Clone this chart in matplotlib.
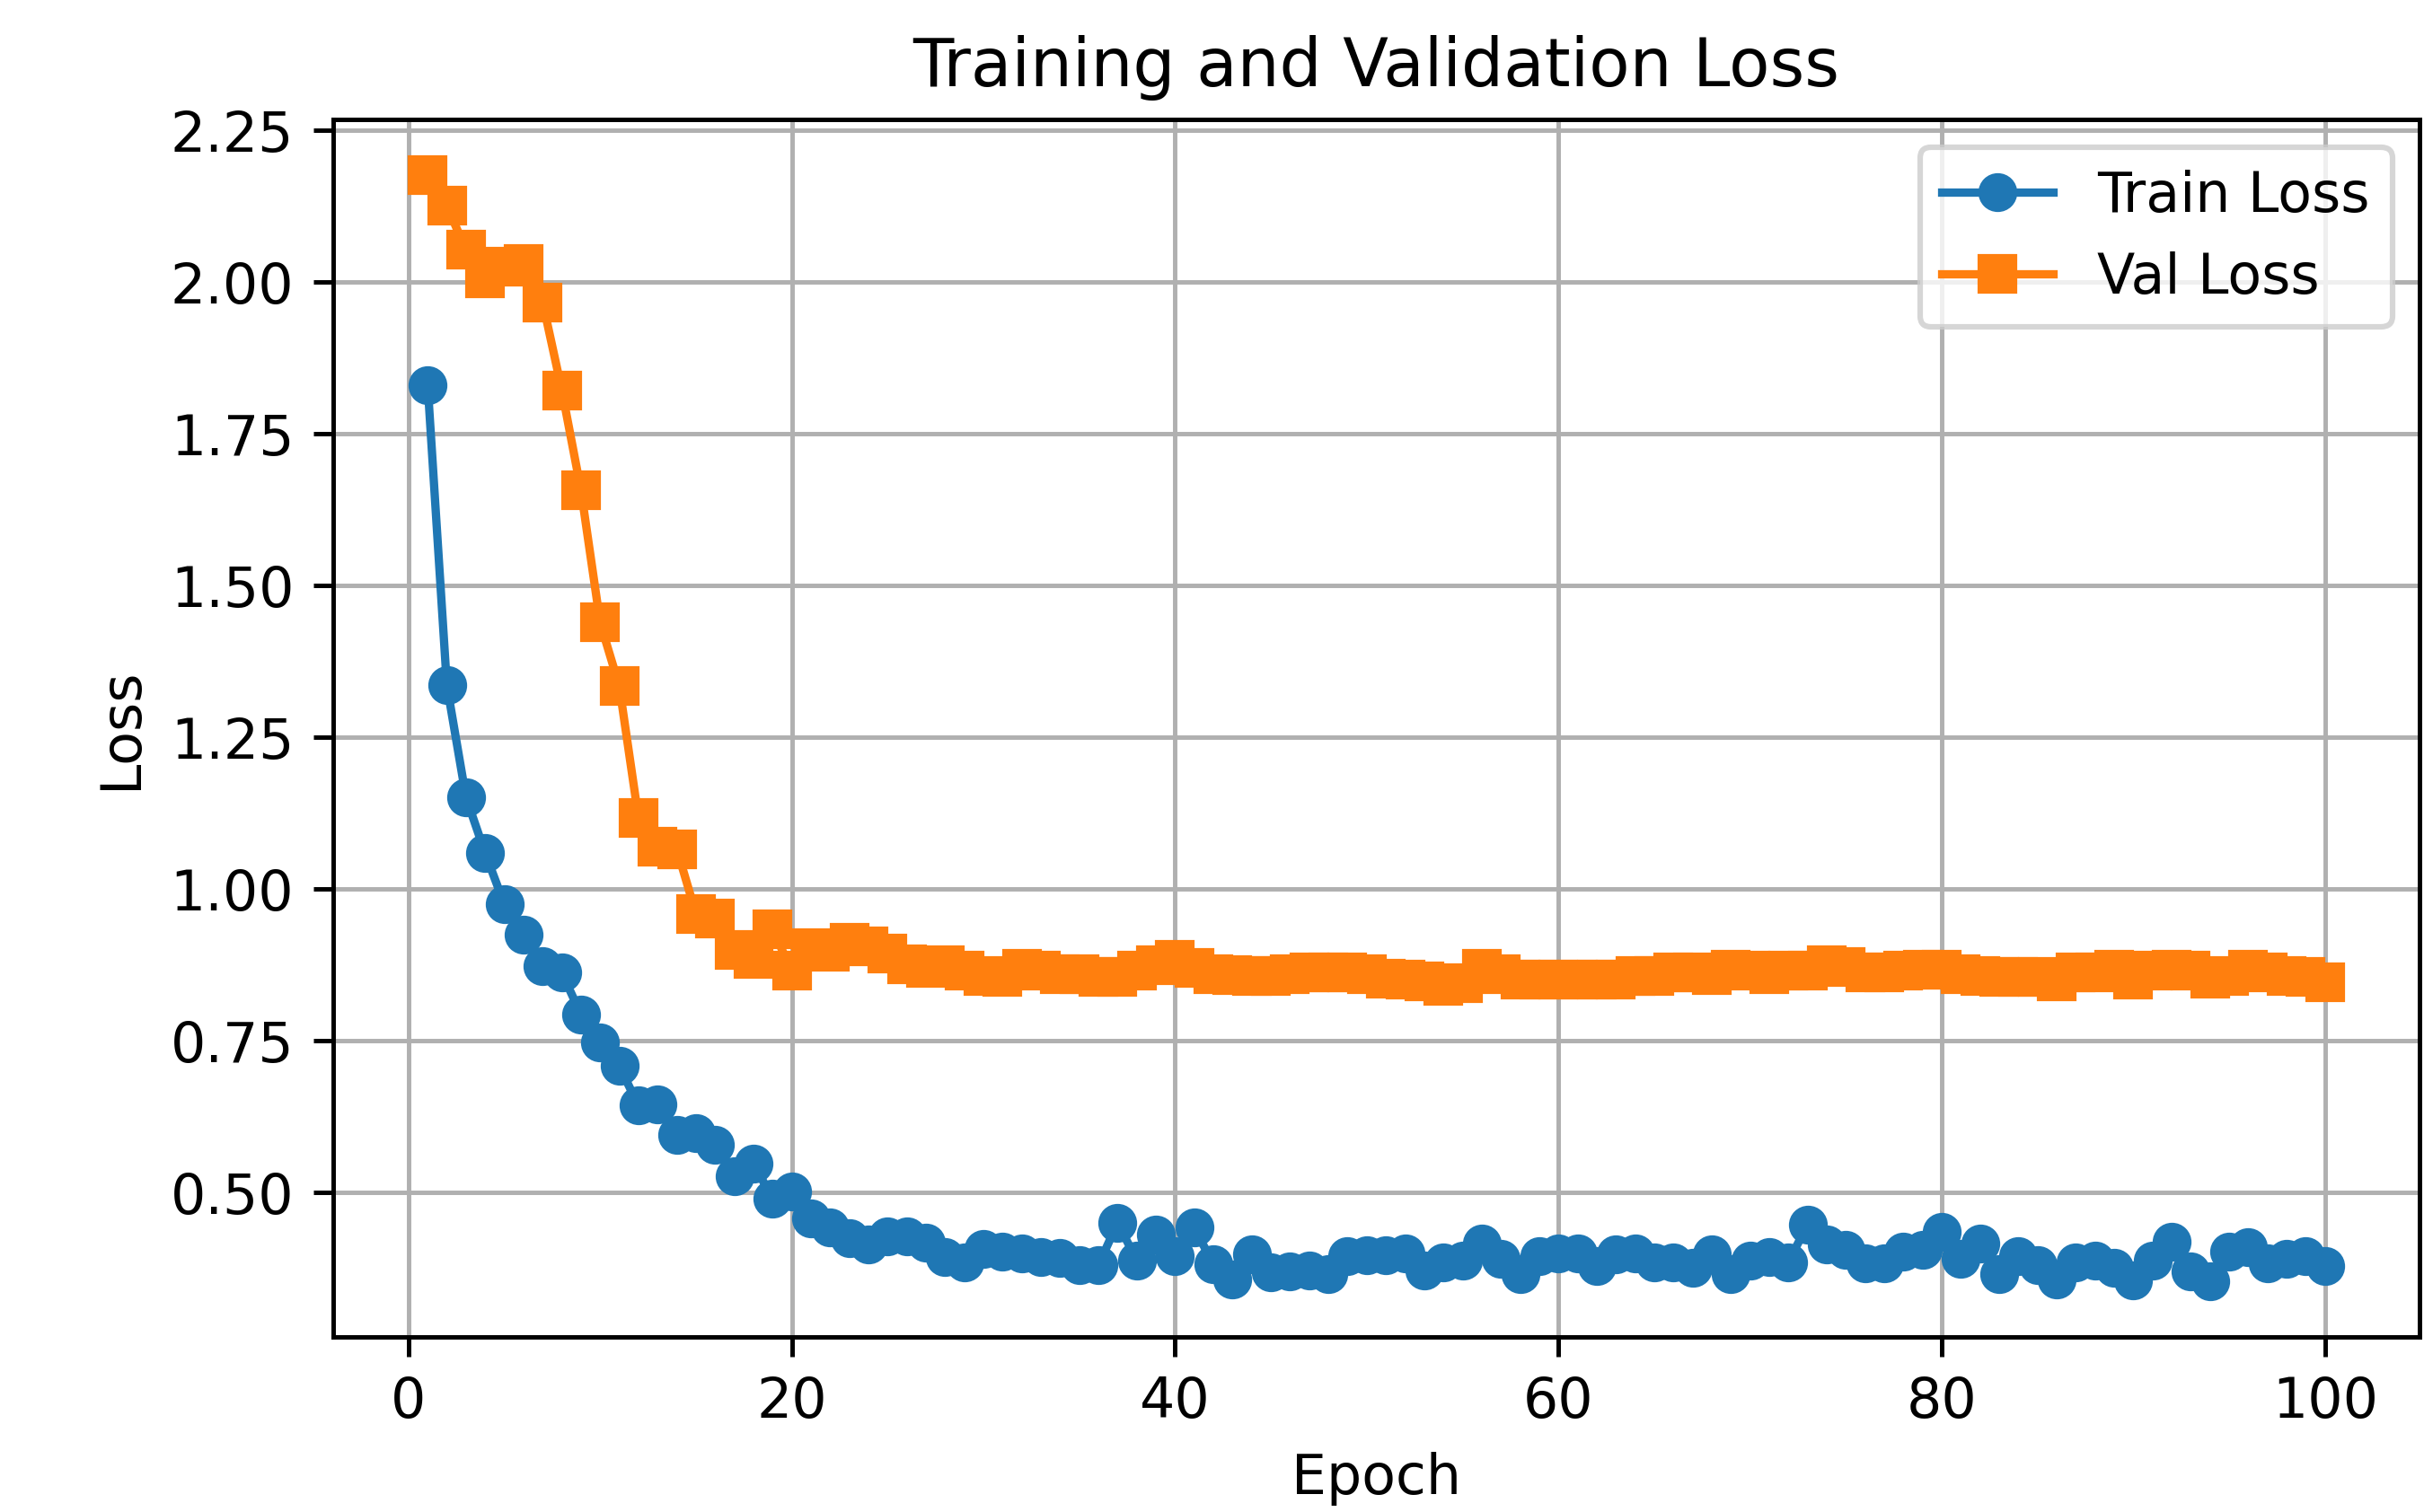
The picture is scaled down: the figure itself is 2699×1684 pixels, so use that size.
import numpy as np
import matplotlib
matplotlib.use("Agg")
import matplotlib.pyplot as plt

# -------------------------------
# Loss values
epochs = np.arange(1, 101)

train_loss = [
    1.831, 1.336, 1.151, 1.059, 0.975, 0.925, 0.873, 0.862, 0.793, 0.747,
    0.708, 0.643, 0.645, 0.595, 0.598, 0.578, 0.527, 0.548, 0.489, 0.502,
    0.457, 0.442, 0.424, 0.414, 0.427, 0.427, 0.417, 0.393, 0.385, 0.407,
    0.403, 0.399, 0.394, 0.392, 0.380, 0.380, 0.450, 0.388, 0.430, 0.395,
    0.442, 0.381, 0.356, 0.398, 0.368, 0.370, 0.372, 0.365, 0.395, 0.397,
    0.397, 0.400, 0.371, 0.385, 0.388, 0.415, 0.390, 0.365, 0.395, 0.400,
    0.400, 0.378, 0.398, 0.400, 0.385, 0.385, 0.375, 0.398, 0.365, 0.388,
    0.393, 0.385, 0.447, 0.414, 0.405, 0.383, 0.383, 0.403, 0.405, 0.435,
    0.390, 0.415, 0.365, 0.395, 0.380, 0.356, 0.385, 0.388, 0.375, 0.355,
    0.388, 0.418, 0.370, 0.353, 0.403, 0.410, 0.383, 0.390, 0.395, 0.378,
]

val_loss = [
    2.177, 2.126, 2.053, 2.007, 2.026, 2.030, 1.967, 1.822, 1.657, 1.439,
    1.334, 1.117, 1.070, 1.066, 0.959, 0.952, 0.899, 0.885, 0.933, 0.865,
    0.902, 0.897, 0.912, 0.905, 0.893, 0.876, 0.870, 0.875, 0.865, 0.857,
    0.855, 0.868, 0.865, 0.860, 0.860, 0.855, 0.855, 0.865, 0.875, 0.884,
    0.870, 0.860, 0.858, 0.857, 0.857, 0.860, 0.862, 0.862, 0.862, 0.860,
    0.852, 0.851, 0.848, 0.840, 0.845, 0.869, 0.860, 0.850, 0.850, 0.850,
    0.850, 0.850, 0.850, 0.857, 0.856, 0.862, 0.862, 0.858, 0.867, 0.865,
    0.860, 0.865, 0.865, 0.874, 0.872, 0.862, 0.862, 0.865, 0.867, 0.867,
    0.860, 0.857, 0.855, 0.855, 0.855, 0.848, 0.862, 0.862, 0.867, 0.850,
    0.865, 0.867, 0.865, 0.852, 0.857, 0.867, 0.862, 0.857, 0.855, 0.846,
]

# -------------------------------
# Plot
dpi = 445
fig = plt.figure(figsize=(2699 / dpi, 1684 / dpi), dpi=dpi)
ax = fig.add_axes([0.1373, 0.1158, 0.861, 0.8052])

ax.plot(epochs, train_loss, marker='o', label='Train Loss')
ax.plot(epochs, val_loss, marker='s', label='Val Loss')

ax.set_title('Training and Validation Loss')
ax.set_xlabel('Epoch')
ax.set_ylabel('Loss')
ax.legend(loc='upper right')
ax.grid(True)

fig.savefig('out.png', dpi=dpi)
